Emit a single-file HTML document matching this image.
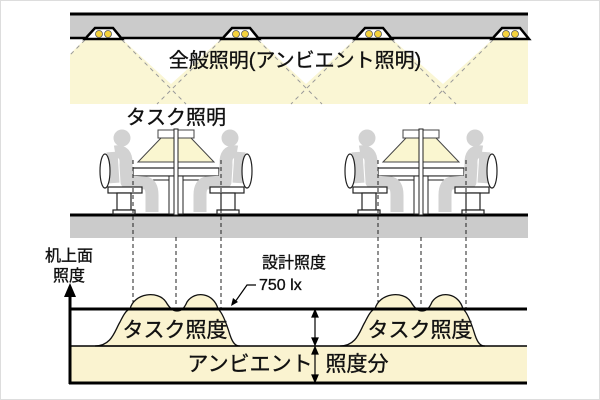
<!DOCTYPE html>
<html><head><meta charset="utf-8"><style>
body{margin:0;background:#fff}
svg{display:block}
text{font-family:"Liberation Sans","Noto Sans CJK JP",sans-serif;fill:#111;stroke:#111;stroke-width:0.35px}
</style></head><body>
<svg width="600" height="400" viewBox="0 0 600 400" xmlns="http://www.w3.org/2000/svg">
<rect x="0" y="0" width="600" height="400" fill="#fff"/>
<rect x="0.5" y="0.5" width="599" height="399" fill="none" stroke="#ddd"/>
<rect x="70" y="39" width="458" height="65" fill="#faf6d4"/>
<g fill="#fff">
<polygon points="122,39 221,39 171,84"/>
<polygon points="258,39 355,39 306,84"/>
<polygon points="392,39 493,39 443,84"/>
<polygon points="70,39 85,39 70,54"/>
</g>
<g stroke="#999" stroke-width="1" stroke-dasharray="4,4" fill="none">
<path d="M85,40 L70,55 M122,40 L186,104 M221,40 L157,104 M258,40 L322,104 M355,40 L291,104 M392,40 L456,104 M493,40 L429,104"/>
</g>
<rect x="70" y="13" width="458" height="25" fill="#cbcbcb"/>
<line x1="70" y1="14" x2="528" y2="14" stroke="#000" stroke-width="3"/>
<g id="lt">
<polygon points="85,39 95,28 113,28 122,39" fill="#fff" stroke="#000" stroke-width="2.5"/>
<circle cx="99" cy="34" r="3.5" fill="#f5d23c" stroke="#555" stroke-width="0.8"/>
<circle cx="108" cy="34" r="3.5" fill="#f5d23c" stroke="#555" stroke-width="0.8"/>
</g>
<use href="#lt" x="137"/>
<use href="#lt" x="270"/>
<use href="#lt" x="407"/>
<path d="M70,38 H85 M122,38 H222 M259,38 H355 M392,38 H492" stroke="#000" stroke-width="2.5"/>
<text x="295" y="67" font-size="20" text-anchor="middle">全般照明(アンビエント照明)</text>
<text x="176" y="124" font-size="20" text-anchor="middle">タスク照明</text>
<rect x="70" y="215" width="458" height="23" fill="#cbcbcb"/>
<line x1="70" y1="215" x2="528" y2="215" stroke="#000" stroke-width="3"/>
<g id="grp">
<g id="half">
<polygon points="161,138 174,138 175,162 138,162" fill="#faf6d0" stroke="#444" stroke-width="1"/>
<rect x="158" y="130" width="16" height="8" fill="#fff" stroke="#444" stroke-width="1"/>
<rect x="133" y="168" width="42" height="8" fill="#fff" stroke="#222" stroke-width="1.2"/>
<rect x="140" y="176" width="30" height="4" fill="#fff" stroke="#222" stroke-width="1"/>
<rect x="169" y="176" width="5" height="38" fill="#fff" stroke="#222" stroke-width="1"/>
<circle cx="122" cy="138" r="8.5" fill="#d2d2d2"/>
<path d="M115,152 Q127,150 126,165 L127,182 L146,183 Q152,185 152,195 L152,212" fill="none" stroke="#d2d2d2" stroke-width="13" stroke-linejoin="round"/>
<path d="M112,152 L114,183" stroke="#d2d2d2" stroke-width="11"/>
<ellipse cx="105" cy="171" rx="5" ry="17" fill="#fff" stroke="#222" stroke-width="1.2"/>
<rect x="108" y="187" width="34" height="6" fill="#fff" stroke="#222" stroke-width="1.2"/>
<rect x="117" y="193" width="14" height="17" fill="#fff" stroke="#222" stroke-width="1.2"/>
<rect x="113" y="210" width="22" height="4" fill="#fff" stroke="#222" stroke-width="1.2"/>
</g>
<use href="#half" transform="translate(352,0) scale(-1,1)"/>
<rect x="174" y="129" width="4" height="86" fill="#fff" stroke="#222" stroke-width="1"/>
</g>
<use href="#grp" x="245"/>
<g stroke="#222" stroke-width="1" stroke-dasharray="4,3">
<path d="M133,160 V308 M221,160 V308 M176,237 V305 M378,160 V308 M466,160 V308 M421,237 V305"/>
</g>
<rect x="70" y="346" width="457" height="37" fill="#faf3d0"/>
<g id="hump">
<path d="M95,346 C112,346 115,330 120,322 C123,316 126,310 130,309 C134,293 158,290 166,302 C170,309 174,311 177,311 C181,311 184,309 187,302 C195,290 214,293 218,309 C222,312 226,322 230,335 C233,344 236,346 240,346 Z" fill="#faf3d0" stroke="#111" stroke-width="1.3"/>
</g>
<use href="#hump" x="245"/>
<line x1="70" y1="309" x2="527" y2="309" stroke="#000" stroke-width="3"/>
<line x1="70" y1="346" x2="527" y2="346" stroke="#000" stroke-width="1.5"/>
<line x1="69" y1="383" x2="527" y2="383" stroke="#000" stroke-width="3"/>
<line x1="70" y1="295" x2="70" y2="384" stroke="#000" stroke-width="3"/>
<polygon points="64,297 70,283 76,297" fill="#000"/>
<text x="175" y="337" font-size="21" text-anchor="middle">タスク照度</text>
<text x="420" y="337" font-size="21" text-anchor="middle">タスク照度</text>
<text x="250" y="371" font-size="21" text-anchor="middle">アンビエント</text>
<text x="357" y="371" font-size="21" text-anchor="middle">照度分</text>
<g stroke="#000" stroke-width="1.2" fill="#000">
<line x1="315" y1="312" x2="315" y2="343"/><line x1="315" y1="349" x2="315" y2="380"/>
<polygon points="312,317 315,310 318,317"/><polygon points="312,338 315,345 318,338"/>
<polygon points="312,354 315,347 318,354"/><polygon points="312,375 315,382 318,375"/>
</g>
<text x="69" y="261" font-size="16" text-anchor="middle">机上面</text>
<text x="69" y="281" font-size="16" text-anchor="middle">照度</text>
<text x="294" y="268" font-size="16" text-anchor="middle">設計照度</text>
<text x="259" y="290" font-size="16">750 lx</text>
<path d="M256,285 H247 L235,302" fill="none" stroke="#000" stroke-width="1.2"/>
<polygon points="231,306 233,298 238,302" fill="#000"/>
</svg>
</body></html>
